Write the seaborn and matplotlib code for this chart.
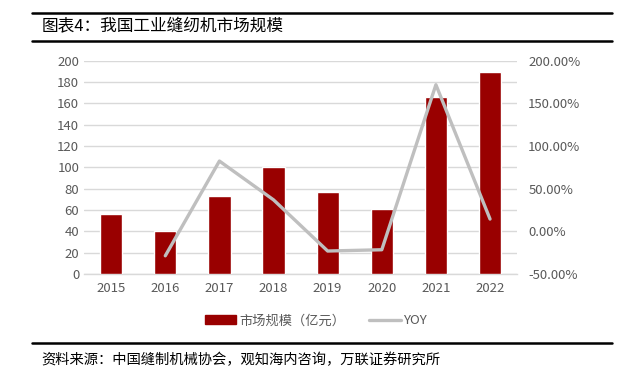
import numpy as np
import pandas as pd
import matplotlib
matplotlib.use("Agg")
import matplotlib.pyplot as plt
import seaborn as sns
from matplotlib.lines import Line2D
from matplotlib.patches import Patch

years = ["2015", "2016", "2017", "2018", "2019", "2020", "2021", "2022"]
market_size = [56, 40, 73, 100, 77, 61, 166, 190]
yoy = [np.nan, -28.6, 82.5, 37.0, -23.0, -21.5, 172.0, 14.5]
left_ticks = [0, 20, 40, 60, 80, 100, 120, 140, 160, 180, 200]
right_ticks = [-50, 0, 50, 100, 150, 200]

sns.set_theme(style="white")
plt.rcParams['font.family'] = ['Noto Sans CJK SC', 'DejaVu Sans']

df = pd.DataFrame({"year": years, "size": market_size, "yoy": yoy})
df["pos"] = np.arange(len(years))

fig = plt.figure(figsize=(6.23, 3.78), dpi=100)
ax = fig.add_axes([0.135, 0.275, 0.695, 0.564])

bar_color = "#990000"
line_color = "#BFBFBF"
tick_color = "#595959"

sns.barplot(data=df, x="year", y="size", color=bar_color, width=0.41, ax=ax,
            saturation=1, zorder=3)
ax.set_ylim(0, 200)
ax.set_yticks(left_ticks)
ax.set_xlim(-0.5, 7.5)
ax.grid(axis="y", color="#D9D9D9", linewidth=1, zorder=0)
ax.set_axisbelow(True)
for s in ["top", "right", "left"]:
    ax.spines[s].set_visible(False)
ax.spines["bottom"].set_color("#D9D9D9")
ax.spines["bottom"].set_linewidth(1)
ax.set_xlabel("")
ax.set_ylabel("")
ax.tick_params(axis="both", colors=tick_color, labelsize=9.5, length=0)
ax.tick_params(axis="x", pad=6)

ax2 = ax.twinx()
sns.lineplot(data=df.dropna(), x="pos", y="yoy", color=line_color, linewidth=2.4,
             ax=ax2, zorder=4)
ax2.set_ylim(-50, 200)
ax2.set_yticks(right_ticks)
ax2.set_yticklabels([f"{t:.2f}%" for t in right_ticks])
ax2.set_xlim(-0.5, 7.5)
for s in ["top", "right", "left", "bottom"]:
    ax2.spines[s].set_visible(False)
ax2.set_xlabel("")
ax2.set_ylabel("")
ax2.tick_params(axis="y", colors=tick_color, labelsize=9.5, length=0, pad=8)

handles = [Patch(facecolor=bar_color, edgecolor=bar_color),
           Line2D([0], [0], color=line_color, linewidth=2.4)]
fig.legend(handles, ["市场规模（亿元）", "YOY"], loc="center",
           bbox_to_anchor=(0.507, 0.151), ncol=2, frameon=False,
           fontsize=9.5, labelcolor=tick_color, handlelength=2.4,
           handletextpad=0.2, columnspacing=1.8)

# title block
fig.add_artist(Line2D([0.051, 0.982], [0.966, 0.966], color="black", linewidth=1.8))
fig.add_artist(Line2D([0.051, 0.982], [0.892, 0.892], color="black", linewidth=1.8))
fig.text(0.067, 0.929, "图表4：我国工业缝纫机市场规模", fontsize=12, color="black",
         va="center", ha="left")

# source block
fig.add_artist(Line2D([0.051, 0.982], [0.093, 0.093], color="black", linewidth=1.8))
fig.text(0.067, 0.048, "资料来源：中国缝制机械协会，观知海内咨询，万联证券研究所",
         fontsize=10.3, color="black", va="center", ha="left", style="italic")

fig.savefig("out.png", dpi=100)
